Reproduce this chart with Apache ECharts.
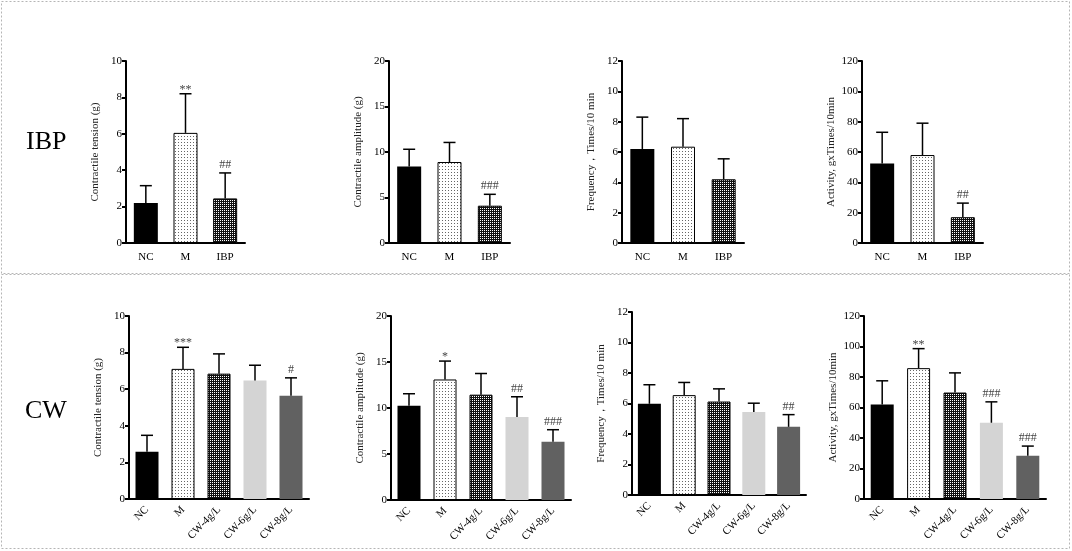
<!DOCTYPE html>
<html>
<head>
<meta charset="utf-8">
<script src="https://cdn.jsdelivr.net/npm/echarts@6/dist/echarts.min.js"></script>
<style>
  html, body { margin: 0; padding: 0; background: #fff; }
  #chart { width: 1072px; height: 551px; }
</style>
</head>
<body>
<div id="chart"></div>
<script>
// categories
const ibpCats = ['NC', 'M', 'IBP'];
const cwCats = ['NC', 'M', 'CW-4g/L', 'CW-6g/L', 'CW-8g/L'];

// IBP row
const ibpTension = [2.2, 6.05, 2.45];
const ibpTensionSd = [0.95, 2.15, 1.4];
const ibpTensionSig = ['', '**', '##'];
const ibpAmplitude = [8.4, 8.9, 4.1];
const ibpAmplitudeSd = [1.9, 2.15, 1.25];
const ibpAmplitudeSig = ['', '', '###'];
const ibpFrequency = [6.2, 6.35, 4.2];
const ibpFrequencySd = [2.1, 1.85, 1.35];
const ibpFrequencySig = ['', '', ''];
const ibpActivity = [52.5, 58, 17];
const ibpActivitySd = [20.5, 21, 9.3];
const ibpActivitySig = ['', '', '##'];

// CW row
const cwTension = [2.58, 7.11, 6.85, 6.47, 5.64];
const cwTensionSd = [0.9, 1.18, 1.08, 0.84, 0.98];
const cwTensionSig = ['', '***', '', '', '#'];
const cwAmplitude = [10.25, 13.1, 11.45, 9.02, 6.34];
const cwAmplitudeSd = [1.3, 2.0, 2.3, 2.2, 1.3];
const cwAmplitudeSig = ['', '*', '', '##', '###'];
const cwFrequency = [5.98, 6.55, 6.13, 5.45, 4.47];
const cwFrequencySd = [1.25, 0.83, 0.83, 0.57, 0.8];
const cwFrequencySig = ['', '', '', '', '##'];
const cwActivity = [62, 85.8, 69.8, 50, 28.4];
const cwActivitySd = [15.5, 12.8, 12.9, 13.7, 6.3];
const cwActivitySig = ['', '**', '', '###', '###'];

// y axis ranges
const yMax = [10, 20, 12, 120];
const yStep = [2, 5, 2, 20];
const yNames = ['Contractile tension (g)', 'Contractile amplitude (g)', 'Frequency，Times/10 min', 'Activity, gxTimes/10min'];

const serif = '"Liberation Serif", "Times New Roman", serif';

function makePattern(kind) {
    const c = document.createElement('canvas');
    const ctx = c.getContext('2d');
    if (kind === 'dots') {
        c.width = 3; c.height = 3;
        ctx.fillStyle = '#fff';
        ctx.fillRect(0, 0, 3, 3);
        ctx.fillStyle = '#666';
        ctx.fillRect(1, 1, 1, 1);
    } else {
        c.width = 2; c.height = 2;
        ctx.fillStyle = '#111';
        ctx.fillRect(0, 0, 2, 2);
        ctx.fillStyle = '#fff';
        ctx.fillRect(0, 0, 1, 1);
    }
    return {image: c, repeat: 'repeat'};
}
const dots = makePattern('dots');
const checker = makePattern('checker');

const barStyles = [
    {color: '#000', borderWidth: 0},
    {color: dots, borderColor: '#000', borderWidth: 1},
    {color: checker, borderColor: '#000', borderWidth: 1},
    {color: '#d4d4d4', borderWidth: 0},
    {color: '#616161', borderWidth: 0}
];

const panels = [
    {cats: ibpCats, mean: ibpTension, sd: ibpTensionSd, sig: ibpTensionSig, k: 0},
    {cats: ibpCats, mean: ibpAmplitude, sd: ibpAmplitudeSd, sig: ibpAmplitudeSig, k: 1},
    {cats: ibpCats, mean: ibpFrequency, sd: ibpFrequencySd, sig: ibpFrequencySig, k: 2},
    {cats: ibpCats, mean: ibpActivity, sd: ibpActivitySd, sig: ibpActivitySig, k: 3},
    {cats: cwCats, mean: cwTension, sd: cwTensionSd, sig: cwTensionSig, k: 0},
    {cats: cwCats, mean: cwAmplitude, sd: cwAmplitudeSd, sig: cwAmplitudeSig, k: 1},
    {cats: cwCats, mean: cwFrequency, sd: cwFrequencySd, sig: cwFrequencySig, k: 2},
    {cats: cwCats, mean: cwActivity, sd: cwActivitySd, sig: cwActivitySig, k: 3}
];

// plot boxes: axis x, top, zero line y, x axis end
const layout = [
    [126, 61, 243, 245], [389, 61, 243, 510], [622, 61, 243, 744], [862, 61, 243, 983],
    [129, 316, 499, 309], [391, 316, 500, 571], [632, 312, 495, 806], [864, 316, 499, 1046]
];

const grids = [], xAxes = [], yAxes = [], series = [];
panels.forEach(function (p, i) {
    const box = layout[i];
    const rotated = p.cats.length > 3;
    grids.push({left: box[0], top: box[1], width: box[3] - box[0], height: box[2] - box[1]});
    xAxes.push({
        type: 'category', gridIndex: i, data: p.cats,
        axisLine: {lineStyle: {color: '#000', width: 2}},
        axisTick: {alignWithLabel: true, length: 5, lineStyle: {width: 2}},
        axisLabel: {
            color: '#000', fontFamily: serif, fontSize: 11, interval: 0,
            rotate: rotated ? 45 : 0, margin: rotated ? 9 : 9
        }
    });
    yAxes.push({
        type: 'value', gridIndex: i, min: 0, max: yMax[p.k], interval: yStep[p.k],
        splitLine: {show: false},
        axisLine: {show: true, lineStyle: {color: '#000', width: 2}},
        axisTick: {show: true, length: 4, lineStyle: {width: 2}},
        axisLabel: {color: '#000', fontFamily: serif, fontSize: 11, margin: 4},
        name: yNames[p.k], nameLocation: 'middle', nameRotate: 90, nameGap: 25,
        nameTextStyle: {color: '#222', fontFamily: serif, fontSize: 11}
    });
    series.push({
        type: 'bar', xAxisIndex: i, yAxisIndex: i, barWidth: rotated ? 23 : 24,
        data: p.mean.map(function (v, j) {
            return {value: v, itemStyle: barStyles[j]};
        })
    });
    series.push({
        type: 'custom', xAxisIndex: i, yAxisIndex: i, z: 3,
        data: p.mean.map(function (v, j) { return [j, v, p.sd[j]]; }),
        renderItem: function (params, api) {
            const x = api.value(0), m = api.value(1), s = api.value(2);
            const a = api.coord([x, m]);
            const b = api.coord([x, m + s]);
            const children = [
                {type: 'line', shape: {x1: a[0], y1: a[1], x2: b[0], y2: b[1]}, style: {stroke: '#000', lineWidth: 1.5}},
                {type: 'line', shape: {x1: b[0] - 6, y1: b[1], x2: b[0] + 6, y2: b[1]}, style: {stroke: '#000', lineWidth: 1.5}}
            ];
            const label = p.sig[params.dataIndex];
            if (label) {
                children.push({
                    type: 'text',
                    style: {
                        text: label, x: b[0], y: b[1] - (label.indexOf('*') >= 0 ? -2 : 2),
                        align: 'center', verticalAlign: 'bottom',
                        fontFamily: serif, fontSize: 12, fill: '#444'
                    }
                });
            }
            return {type: 'group', children: children};
        }
    });
});

const chart = echarts.init(document.getElementById('chart'), null, {renderer: 'canvas'});
const option = {
    backgroundColor: '#fff',
    animation: false,
    title: [
        {text: 'IBP', left: 21, top: 124, textStyle: {fontFamily: serif, fontSize: 26, fontWeight: 'normal', color: '#000'}},
        {text: 'CW', left: 20, top: 393, textStyle: {fontFamily: serif, fontSize: 26, fontWeight: 'normal', color: '#000'}}
    ],
    graphic: [
        {type: 'rect', shape: {x: 1.5, y: 1.5, width: 1068, height: 272}, style: {fill: 'none', stroke: '#b5b5b5', lineWidth: 1, lineDash: [2, 2]}},
        {type: 'rect', shape: {x: 1.5, y: 274.5, width: 1068, height: 274}, style: {fill: 'none', stroke: '#b5b5b5', lineWidth: 1, lineDash: [2, 2]}}
    ],
    grid: grids,
    xAxis: xAxes,
    yAxis: yAxes,
    series: series
};
chart.setOption(option);
</script>
</body>
</html>
